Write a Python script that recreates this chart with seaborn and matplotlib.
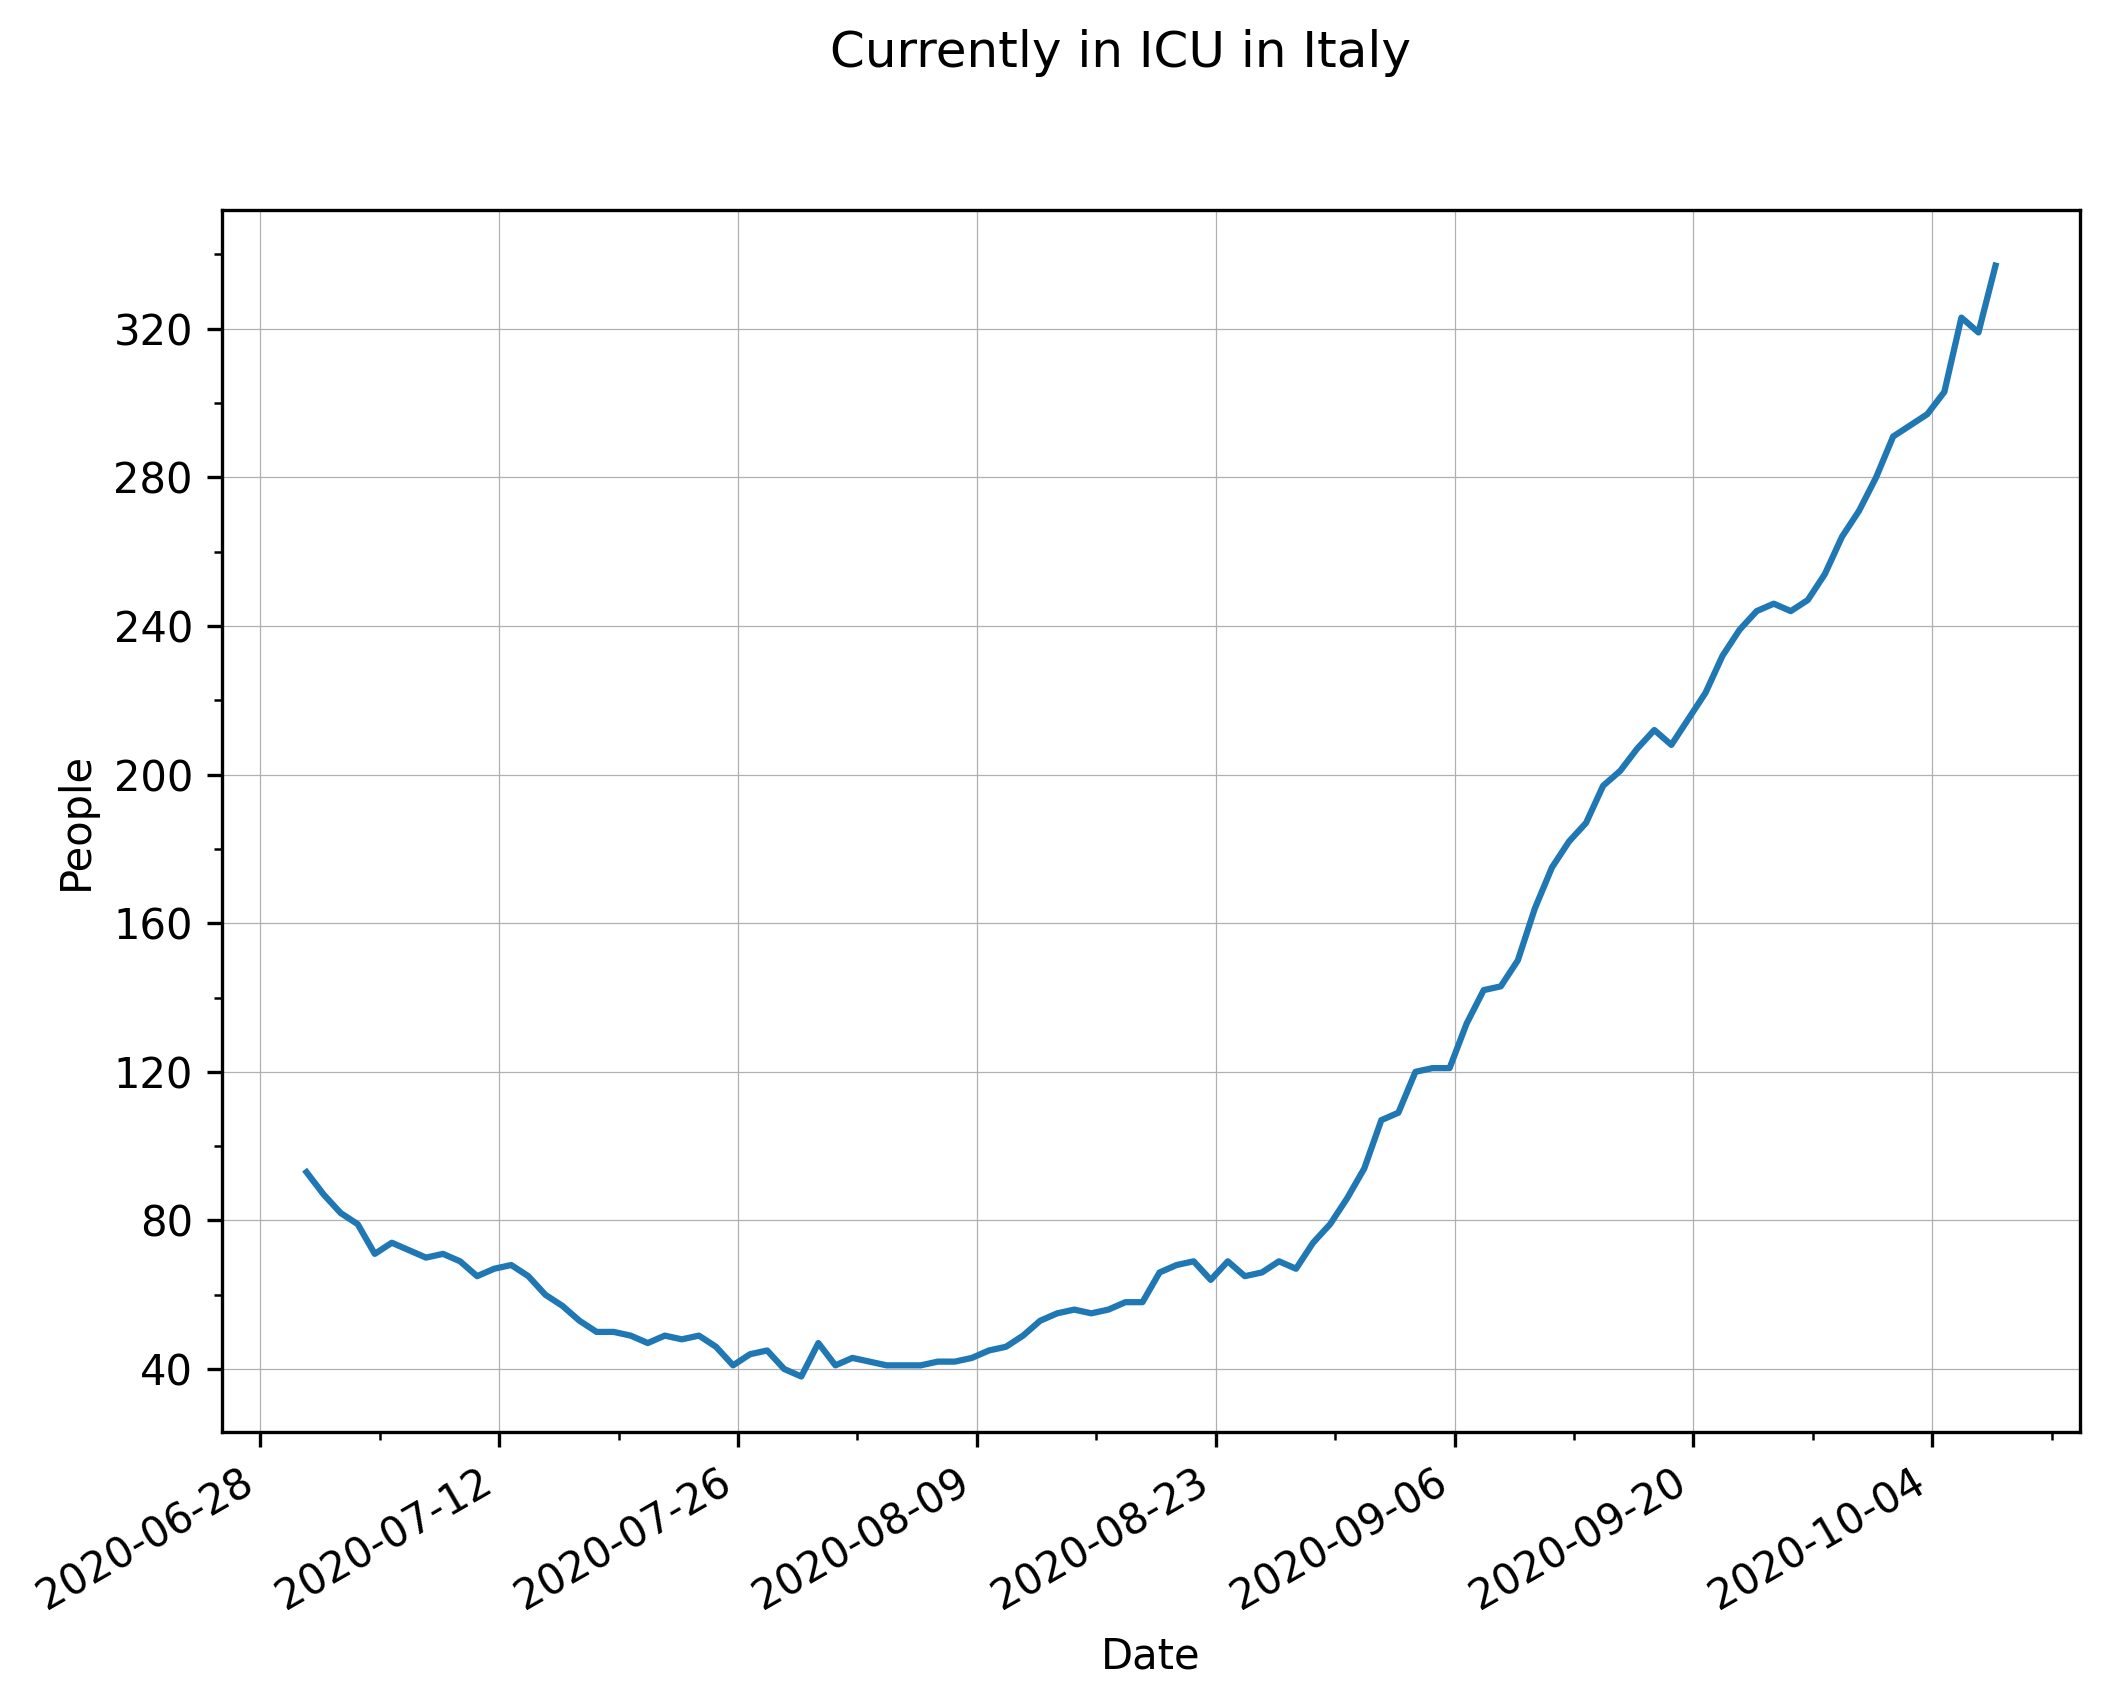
import numpy as np
import pandas as pd
import matplotlib
matplotlib.use("Agg")
import matplotlib.pyplot as plt
import matplotlib.dates as mdates
from matplotlib.ticker import MultipleLocator
import seaborn as sns

# daily readings, published at 17:00
start_date = "2020-06-30 17:00"
icu_june = [93]
icu_july = [87, 82, 79, 71, 74, 72, 70, 71, 69, 65, 67, 68, 65, 60, 57, 53,
            50, 50, 49, 47, 49, 48, 49, 46, 41, 44, 45, 40, 38, 47, 41]
icu_august = [43, 42, 41, 41, 41, 42, 42, 43, 45, 46, 49, 53, 55, 56, 55, 56,
              58, 58, 66, 68, 69, 64, 69, 65, 66, 69, 67, 74, 79, 86, 94]
icu_september = [107, 109, 120, 121, 121, 133, 142, 143, 150, 164, 175, 182,
                 187, 197, 201, 207, 212, 208, 215, 222, 232, 239, 244, 246,
                 244, 247, 254, 264, 271, 280]
icu_october = [291, 294, 297, 303, 323, 319, 337]

icu = icu_june + icu_july + icu_august + icu_september + icu_october
df = pd.DataFrame({
    "Date": pd.date_range(start_date, periods=len(icu), freq="D"),
    "People": icu,
})

fig = plt.figure(figsize=(2111 / 300, 1705 / 300), dpi=300)
ax = fig.add_axes([0.1052, 0.1601, 0.8801, 0.7167])

sns.lineplot(data=df, x="Date", y="People", ax=ax, color="#1f77b4", linewidth=1.5)

# two-week major ticks, weekly minor ticks
major = pd.date_range("2020-06-28", "2020-10-04", freq="14D")
minor = pd.date_range("2020-06-28", "2020-10-11", freq="7D")
ax.set_xticks(mdates.date2num(major))
ax.set_xticks(mdates.date2num(minor), minor=True)
ax.xaxis.set_major_formatter(mdates.DateFormatter("%Y-%m-%d"))
ax.yaxis.set_major_locator(MultipleLocator(40))
ax.yaxis.set_minor_locator(MultipleLocator(20))

ax.grid(True, which="major", color="#b0b0b0", linewidth=0.3)
ax.set_xlabel("Date")
ax.set_ylabel("People")
for lbl in ax.get_xticklabels():
    lbl.set_rotation(30)
    lbl.set_ha("right")

fig.suptitle("Currently in ICU in Italy", fontsize=12, x=0.531, y=0.983)
fig.savefig("out.png", dpi=300)
